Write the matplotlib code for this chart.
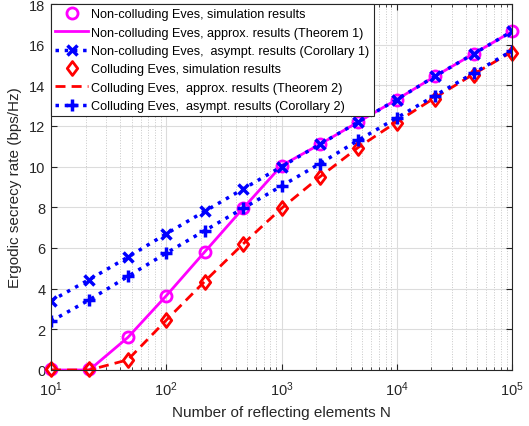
import numpy as np
import matplotlib
matplotlib.use("Agg")
import matplotlib.pyplot as plt
from matplotlib.path import Path
from matplotlib.ticker import LogLocator, NullFormatter

plt.rcParams['font.family'] = ['Liberation Sans', 'DejaVu Sans']
plt.rcParams['mathtext.fontset'] = 'custom'
plt.rcParams['mathtext.rm'] = 'Liberation Sans'

# number of reflecting elements, 3 points per decade
N = [10, 21.5, 46.4, 100, 215, 464, 1000, 2154, 4642, 10000, 21544, 46416, 100000]

nc_sim = [0.05, 0.05, 1.6, 3.65, 5.8, 7.95, 10.05, 11.1, 12.2, 13.3, 14.45, 15.55, 16.65]
nc_thm1 = [0.0, 0.0, 1.6, 3.65, 5.8, 7.95, 10.05, 11.1, 12.2, 13.3, 14.45, 15.55, 16.65]
nc_cor1 = [3.4, 4.45, 5.55, 6.7, 7.8, 8.9, 10.0, 11.1, 12.2, 13.3, 14.45, 15.55, 16.65]

c_sim = [0.05, 0.05, 0.5, 2.45, 4.35, 6.2, 7.95, 9.5, 10.9, 12.15, 13.35, 14.5, 15.6]
c_thm2 = [0.0, 0.0, 0.5, 2.45, 4.35, 6.2, 7.95, 9.5, 10.95, 12.2, 13.4, 14.55, 15.65]
c_cor2 = [2.4, 3.45, 4.6, 5.75, 6.85, 7.95, 9.05, 10.15, 11.3, 12.4, 13.5, 14.6, 15.7]

labels = [
    "Non-colluding Eves, simulation results",
    "Non-colluding Eves, approx. results (Theorem 1)",
    "Non-colluding Eves,  asympt. results (Corollary 1)",
    "Colluding Eves, simulation results",
    "Colluding Eves,  approx. results (Theorem 2)",
    "Colluding Eves,  asympt. results (Corollary 2)",
]

# matlab style diamond, a bit wider than matplotlib's thin one
diamond = Path([(0, 1), (0.75, 0), (0, -1), (-0.75, 0), (0, 1)],
               [Path.MOVETO, Path.LINETO, Path.LINETO, Path.LINETO, Path.CLOSEPOLY])

fig = plt.figure(figsize=(5.29, 4.27), dpi=100)
ax = fig.add_axes([51 / 529, 1 - 371 / 427, 461 / 529, 366 / 427])

ax.plot(N, nc_sim, 'o', color='#ff00ff', mfc='none', mew=2, ms=8, clip_on=False,
        label=labels[0])
ax.plot(N, nc_thm1, '-', color='#ff00ff', lw=2, label=labels[1])
ax.plot(N, nc_cor1, ':', color='#0000ff', lw=2.5, marker='x', ms=7, mew=2.5,
        label=labels[2])
ax.plot(N, c_sim, ls='none', marker=diamond, color='#ff0000', mfc='none', mew=2,
        ms=10, clip_on=False, label=labels[3])
ax.plot(N, c_thm2, '--', color='#ff0000', lw=2, dashes=(3.6, 2.2), label=labels[4])
ax.plot(N, c_cor2, ':', color='#0000ff', lw=2.5, marker='+', ms=8, mew=2.5,
        label=labels[5])

ax.set_xscale('log')
ax.set_xlim(10, 1e5)
ax.set_ylim(0, 18)
ax.set_yticks(range(0, 19, 2))
ax.xaxis.set_major_locator(LogLocator(base=10, numticks=10))
ax.xaxis.set_minor_locator(LogLocator(base=10, subs=np.arange(2, 10), numticks=100))
ax.xaxis.set_minor_formatter(NullFormatter())

ax.grid(True, which='major', color='#dcdcdc', lw=0.8, ls='-')
ax.grid(True, which='minor', axis='x', color='#c8c8c8', lw=0.7, ls=':')
ax.set_axisbelow(True)

dark = '#262626'
for s in ax.spines.values():
    s.set_color(dark)
    s.set_linewidth(0.8)
ax.tick_params(which='both', direction='in', top=True, right=True, colors=dark,
               labelsize=10.5)
ax.tick_params(which='major', length=4)
ax.tick_params(which='minor', length=2)
ax.tick_params(axis='x', which='major', pad=7)
ax.tick_params(axis='y', which='major', pad=4)

ax.set_xlabel("Number of reflecting elements N", fontsize=11, color=dark, labelpad=5)
ax.set_ylabel("Ergodic secrecy rate (bps/Hz)", fontsize=11, color=dark, labelpad=5)

leg = ax.legend(loc='upper left', fontsize=9.1, frameon=True, fancybox=False,
                edgecolor=dark, framealpha=1, borderaxespad=0, handlelength=2.6,
                handletextpad=0.25, labelspacing=0.5, borderpad=0.35)
leg.get_frame().set_linewidth(0.8)

fig.savefig("out.png", dpi=100)
